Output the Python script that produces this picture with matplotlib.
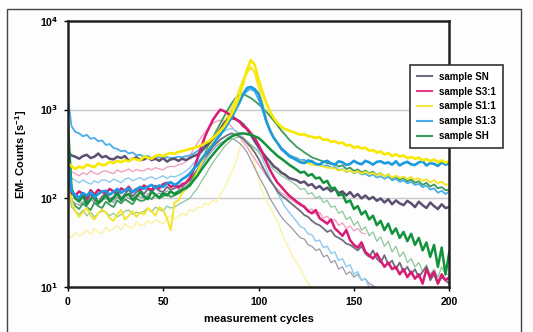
import numpy as np
import matplotlib
matplotlib.use('Agg')
import matplotlib.pyplot as plt
from matplotlib.lines import Line2D
from matplotlib.patches import Rectangle
from matplotlib.ticker import NullLocator

plt.rcParams['font.family'] = ['Liberation Sans', 'DejaVu Sans']
plt.rcParams['font.weight'] = 'bold'
plt.rcParams['mathtext.fontset'] = 'custom'
plt.rcParams['mathtext.rm'] = 'Liberation Sans:bold'
plt.rcParams['mathtext.bf'] = 'Liberation Sans:bold'
plt.rcParams['mathtext.default'] = 'bf'

nan = np.nan

cycles = np.arange(0, 201, 2)

# counts per second [s^-1] for each run (thick / medium / thin traces), rows of 10 = 20 cycles
sn_thick = [330, 305, 295, 280, 300, 310, 285, 295, 320, 290,
            300, 280, 275, 295, 285, 300, 265, 280, 290, 270,
            275, 290, 270, 280, 265, 285, 260, 275, 280, 265,
            280, 270, 285, 300, 310, 340, 380, 420, 470, 520,
            600, 700, 780, 800, 780, 740, 680, 600, 520, 440,
            380, 330, 290, 260, 230, 215, 195, 185, 170, 165,
            160, 150, 155, 140, 145, 130, 138, 125, 132, 120,
            128, 115, 120, 108, 118, 104, 112, 100, 108, 98,
            104, 94, 100, 90, 98, 86, 95, 88, 84, 94,
            88, 80, 92, 84, 78, 90, 82, 76, 86, 78,
            80]
sn_mid = [220, 120, 100, 95, 108, 92, 112, 96, 90, 105,
          115, 98, 104, 120, 100, 112, 126, 105, 118, 125,
          112, 128, 118, 132, 122, 118, 135, 125, 130, 140,
          135, 150, 160, 185, 210, 250, 290, 330, 380, 420,
          460, 490, 520, 540, 520, 500, 470, 420, 380, 330,
          280, 230, 190, 160, 140, 120, 108, 100, 92, 85,
          78, 72, 65, 62, 56, 52, 50, 46, 42, 44,
          38, 36, 34, 31, 30, 28, 26, 29, 24, 22,
          26, 21, 19, 23, 18, 20, 16, 19, 15, 17,
          14, 16, 13, 15, 17, 12, 14, 11, 13, 12,
          11]
sn_thin = [160, 95, 88, 84, 92, 86, 98, 90, 85, 96,
           100, 94, 90, 104, 96, 108, 100, 96, 110, 104,
           102, 112, 118, 108, 115, 110, 122, 118, 115, 125,
           130, 138, 150, 170, 200, 230, 270, 310, 350, 390,
           420, 440, 460, 470, 450, 420, 380, 330, 270, 220,
           180, 150, 125, 100, 85, 72, 62, 55, 50, 45,
           40, 36, 35, 30, 29, 26, 27, 22, 23, 19,
           20, 16, 17, 14, 15, 13, 14, 12, 12.5, 11,
           10.5, 9.5, 9, 8, 8, 8, 8, 8, 8, 8,
           8, 8, 8, 8, 8, 8, 8, 8, 8, 8,
           8]

s31_thick = [210, 115, 108, 120, 112, 100, 124, 110, 125, 118,
             115, 128, 120, 112, 130, 122, 135, 118, 128, 125,
             140, 130, 125, 138, 130, 145, 150, 135, 140, 132,
             145, 150, 170, 210, 280, 380, 500, 620, 760, 880,
             1000, 960, 900, 850, 780, 730, 650, 610, 540, 480,
             400, 330, 260, 210, 175, 150, 135, 120, 108, 100,
             92, 86, 80, 72, 68, 74, 60, 56, 52, 58,
             46, 42, 38, 44, 34, 30, 28, 32, 25, 23,
             21, 24, 20, 17, 19, 16, 17, 14, 16, 13,
             15, 12.5, 14, 11, 16, 13, 15, 11, 14, 12,
             13]
s31_thin = [270, 200, 190, 180, 195, 185, 205, 192, 188, 200,
            205, 196, 190, 210, 198, 205, 215, 200, 212, 205,
            205, 218, 210, 222, 215, 210, 225, 230, 228, 240,
            245, 260, 300, 360, 420, 490, 560, 630, 700, 740,
            760, 740, 700, 640, 560, 500, 430, 380, 320, 280,
            240, 210, 180, 160, 140, 128, 115, 108, 100, 94,
            88, 82, 84, 74, 76, 66, 70, 60, 63, 56,
            58, 50, 53, 46, 49, 43, 46, 41, 40, nan,
            nan, nan, nan, nan, nan, nan, nan, nan, nan, nan,
            nan, nan, nan, nan, nan, nan, nan, nan, nan, nan,
            nan]

s11_thick = [250, 230, 215, 228, 220, 240, 232, 225, 248, 238,
             240, 258, 250, 265, 255, 270, 262, 280, 275, 268,
             295, 288, 280, 300, 310, 298, 315, 325, 318, 335,
             340, 350, 360, 370, 380, 395, 420, 440, 480, 520,
             580, 650, 760, 900, 1100, 1400, 2000, 2800, 3600, 3200,
             2200, 1600, 1200, 950, 800, 700, 640, 600, 580, 560,
             540, 520, 530, 500, 495, 480, 490, 455, 462, 435,
             440, 418, 425, 395, 400, 372, 385, 365, 372, 345,
             350, 328, 338, 312, 325, 300, 315, 295, 305, 285,
             292, 280, 288, 268, 278, 262, 275, 255, 268, 252,
             265]
s11_mid = [190, 95, 72, 62, 70, 78, 64, 58, 68, 75,
           70, 60, 56, 66, 74, 58, 64, 72, 62, 70,
           66, 78, 72, 64, 80, 74, 60, 44, 90, 95,
           115, 128, 140, 165, 200, 250, 300, 370, 450, 530,
           620, 720, 850, 1050, 1300, 1700, 2200, 2600, 3000, 2600,
           1800, 1200, 800, 600, 480, 410, 360, 330, 300, 285,
           270, 262, 255, 248, 240, 238, 235, 228, 222, 220,
           218, 205, 212, 200, 206, 195, 203, 190, 200, 188,
           194, 182, 190, 176, 186, 172, 180, 170, 176, 165,
           174, 162, 168, 158, 164, 152, 160, 148, 155, 142,
           145]
s11_thin = [40, 36, 42, 38, 40, 44, 39, 46, 42, 40,
            48, 43, 46, 50, 44, 52, 48, 46, 54, 50,
            50, 56, 52, 58, 55, 52, 60, 64, 58, 62,
            68, 64, 75, 72, 80, 78, 88, 84, 95, 92,
            110, 130, 160, 200, 250, 350, 500, 420, 350, 250,
            160, 120, 95, 80, 65, 55, 42, 33, 27, 22,
            19, 16, 13, 11, 10, 9, 8, 8, 8, 8,
            8, 8, 8, 8, 8, 8, 8, 8, 8, 8,
            8, 8, 8, 8, 8, 8, 8, 8, 8, 8,
            8, 8, 8, 8, 8, 8, 8, 8, 8, 8,
            8]

s13_thick = [320, 120, 110, 102, 115, 108, 118, 104, 112, 120,
             122, 110, 118, 128, 115, 124, 130, 118, 126, 135,
             128, 136, 142, 132, 140, 135, 148, 152, 142, 150,
             165, 175, 190, 215, 240, 275, 310, 350, 400, 460,
             520, 600, 700, 820, 1000, 1200, 1500, 1750, 1800, 1700,
             1500, 1100, 750, 580, 480, 420, 360, 330, 300, 285,
             270, 255, 250, 268, 262, 245, 240, 258, 265, 248,
             240, 262, 255, 238, 245, 265, 250, 242, 265, 255,
             240, 258, 262, 248, 255, 240, 262, 235, 250, 258,
             242, 238, 255, 262, 235, 250, 245, 232, 255, 240,
             250]
s13_mid = [1400, 650, 560, 540, 500, 520, 470, 480, 440, 450,
           400, 410, 370, 360, 340, 345, 320, 330, 305, 310,
           295, 300, 285, 295, 290, 280, 292, 285, 288, 295,
           292, 298, 305, 320, 340, 365, 400, 440, 480, 540,
           600, 700, 800, 940, 1100, 1300, 1450, 1620, 1700, 1600,
           1300, 1000, 750, 600, 480, 420, 370, 340, 310, 295,
           285, 270, 272, 252, 258, 240, 246, 232, 236, 222,
           226, 208, 214, 198, 206, 192, 200, 186, 190, 178,
           186, 172, 178, 166, 176, 160, 166, 154, 160, 148,
           154, 142, 146, 134, 140, 126, 130, 116, 122, 112,
           120]
s13_thin = [230, 170, 160, 150, 162, 152, 145, 158, 150, 162,
            160, 152, 165, 158, 150, 165, 170, 158, 165, 172,
            160, 170, 175, 165, 172, 180, 168, 178, 175, 182,
            190, 205, 220, 250, 280, 320, 360, 400, 450, 500,
            540, 570, 600, 610, 580, 540, 480, 440, 400, 370,
            350, 280, 220, 170, 140, 115, 95, 80, 70, 62,
            55, 48, 46, 40, 39, 33, 34, 28, 29, 24,
            25, 20, 21, 17, 18, 14, 15, 12, 12.5, 10,
            9, 8, 8, 8, 8, 8, 8, 8, 8, 8,
            8, 8, 8, 8, 8, 8, 8, 8, 8, 8,
            8]

sh_thick = [750, 130, 100, 92, 108, 85, 98, 110, 88, 96,
            110, 92, 100, 115, 95, 108, 112, 96, 104, 118,
            105, 98, 120, 110, 102, 115, 108, 120, 112, 118,
            125, 130, 140, 160, 180, 210, 240, 275, 310, 350,
            390, 430, 470, 500, 520, 535, 540, 530, 520, 500,
            480, 440, 400, 360, 330, 300, 280, 260, 240, 225,
            210, 195, 200, 180, 188, 168, 172, 150, 158, 130,
            132, 108, 112, 90, 95, 76, 82, 66, 72, 58,
            64, 50, 56, 44, 52, 40, 46, 36, 42, 33,
            40, 30, 36, 26, 32, 22, 30, 17, 28, 14,
            25]
sh_mid = [420, 95, 82, 76, 88, 80, 74, 90, 82, 78,
          92, 85, 80, 95, 88, 98, 92, 86, 100, 94,
          95, 105, 98, 110, 100, 106, 112, 104, 108, 114,
          120, 132, 145, 175, 210, 260, 320, 400, 480, 580,
          700, 840, 1000, 1180, 1350, 1450, 1500, 1420, 1350, 1250,
          1150, 1050, 950, 850, 750, 660, 580, 520, 460, 420,
          380, 355, 330, 310, 290, 280, 270, 260, 250, 245,
          245, 228, 236, 215, 222, 204, 212, 196, 206, 192,
          200, 184, 192, 176, 186, 168, 176, 162, 170, 156,
          164, 150, 156, 142, 150, 136, 144, 130, 134, 124,
          125]
sh_thin = [160, 80, 72, 66, 74, 64, 70, 62, 68, 72,
           70, 64, 68, 62, 66, 72, 74, 66, 70, 68,
           72, 78, 70, 80, 75, 72, 82, 78, 80, 85,
           90, 95, 100, 115, 130, 155, 180, 215, 250, 290,
           330, 380, 420, 460, 480, 490, 470, 440, 400, 370,
           330, 290, 260, 235, 210, 195, 180, 170, 160, 150,
           140, 126, 130, 112, 116, 100, 106, 90, 95, 80,
           82, 68, 72, 58, 62, 50, 55, 44, 48, 38,
           42, 33, 37, 29, 33, 25, 29, 22, 25, 19,
           21, 17, 19, 15, 18, 14, 16, 13, 17, 14,
           14]

legend_labels = ['sample SN', 'sample S3:1', 'sample S1:1', 'sample S1:3', 'sample SH']
legend_colors = ['#6e6e7e', '#e0408a', '#f5e64a', '#4aaee8', '#3b9a5c']

fig = plt.figure(figsize=(5.33, 3.32), dpi=100)
fig.patch.set_facecolor('#fdfdfd')
ax = fig.add_axes([0.127, 0.1346, 0.716, 0.803])
ax.set_facecolor('#fdfdfd')

ax.axhline(100, color='#c8c8c8', lw=1, zorder=0)
ax.axhline(1000, color='#c8c8c8', lw=1, zorder=0)

# thin traces underneath, thick ones on top
traces = [
    (s11_thin, '#fbf29a', 0.9),
    (sn_thin, '#9a9aaa', 0.9),
    (s31_thin, '#f29ac0', 0.9),
    (s13_thin, '#8ccbee', 1.0),
    (sh_thin, '#8cc79c', 0.9),
    (sn_mid, '#6e6e7e', 1.3),
    (sh_mid, '#3b9a5c', 1.3),
    (s13_mid, '#4aaee8', 1.3),
    (s11_mid, '#f5e52a', 1.4),
    (sn_thick, '#5c5070', 1.8),
    (s31_thick, '#d81b74', 1.8),
    (sh_thick, '#13923c', 1.8),
    (s13_thick, '#1b9ae0', 1.9),
    (s11_thick, '#f8e800', 1.9),
]
for vals, col, lw in traces:
    ax.plot(cycles, vals, color=col, lw=lw)

ax.set_yscale('log')
ax.set_xlim(0, 200)
ax.set_ylim(10, 10000)
ax.set_xticks([0, 50, 100, 150, 200])
ax.set_yticks([10, 100, 1000, 10000])
ax.set_yticklabels([r'$10^{\mathsf{1}}$', r'$10^{\mathsf{2}}$', r'$10^{\mathsf{3}}$', r'$10^{\mathsf{4}}$'])
ax.yaxis.set_minor_locator(NullLocator())
ax.tick_params(labelsize=7.5, length=3, width=1, direction='out', pad=4)
for lab in ax.get_xticklabels() + ax.get_yticklabels():
    lab.set_fontweight('bold')
for sp in ax.spines.values():
    sp.set_linewidth(1.8)
    sp.set_color('#222222')

ax.set_xlabel('measurement cycles', fontsize=8, fontweight='bold', labelpad=5)
ax.set_ylabel(r'EM- Counts [s$^{-1}$]', fontsize=8, fontweight='bold', labelpad=8)

handles = [Line2D([0], [0], color=c, lw=1.5) for c in legend_colors]
leg = ax.legend(handles, legend_labels, loc='upper left', bbox_to_anchor=(0.897, 0.834),
                borderaxespad=0, fancybox=False, framealpha=1, edgecolor='#333333',
                handlelength=1.6, borderpad=0.7, labelspacing=0.5, handletextpad=0.7,
                prop={'size': 7, 'weight': 'bold'})
leg.get_frame().set_linewidth(1.2)

# outer frame around the whole figure
fig.patches.append(Rectangle((7 / 533, -0.05), 514 / 533, 1 - 9 / 332 + 0.05,
                             transform=fig.transFigure, fill=False, ec='#444444', lw=1))

fig.savefig('out.png', dpi=100, facecolor=fig.get_facecolor())
